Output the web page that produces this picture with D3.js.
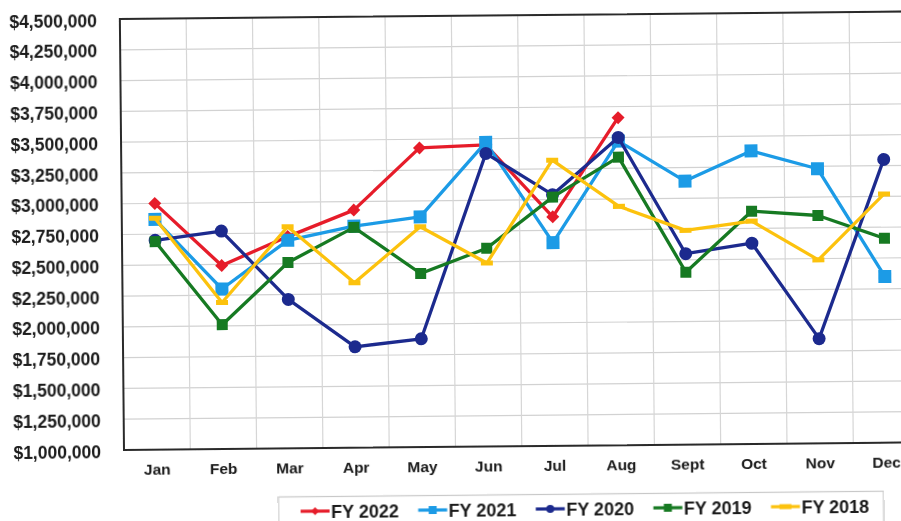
<!DOCTYPE html>
<html>
<head>
<meta charset="utf-8">
<script src="https://cdn.jsdelivr.net/npm/d3@7"></script>
<style>
  html, body { margin: 0; padding: 0; background: #fff; }
  svg { display: block; }
</style>
</head>
<body>
<svg id="chart" width="901" height="521"></svg>
<script>
// Monthly revenue by fiscal year
const months = ["Jan", "Feb", "Mar", "Apr", "May", "Jun", "Jul", "Aug", "Sept", "Oct", "Nov", "Dec"];
const yTicks = [1000000, 1250000, 1500000, 1750000, 2000000, 2250000, 2500000, 2750000,
                3000000, 3250000, 3500000, 3750000, 4000000, 4250000, 4500000];

const fy2022 = [3000000, 2490000, 2720000, 2930000, 3430000, 3450000, 2860000, 3660000];
const fy2021 = [2870000, 2300000, 2690000, 2800000, 2870000, 3470000, 2650000, 3470000, 3140000, 3380000, 3230000, 2350000];
const fy2020 = [2700000, 2770000, 2210000, 1820000, 1880000, 3380000, 3040000, 3500000, 2550000, 2630000, 1850000, 3300000];
const fy2019 = [2690000, 2010000, 2510000, 2790000, 2410000, 2610000, 3020000, 3340000, 2400000, 2890000, 2850000, 2660000];
const fy2018 = [2880000, 2190000, 2800000, 2340000, 2790000, 2490000, 3320000, 2940000, 2740000, 2810000, 2490000, 3020000];

const seriesNames = ["FY 2022", "FY 2021", "FY 2020", "FY 2019", "FY 2018"];
const seriesData = [fy2022, fy2021, fy2020, fy2019, fy2018];

const styles = {
  "FY 2022": { color: "#e61f2b", marker: "diamond", size: 13 },
  "FY 2021": { color: "#1b9be6", marker: "square", size: 13 },
  "FY 2020": { color: "#1d2b8e", marker: "circle", size: 13 },
  "FY 2019": { color: "#197a24", marker: "square", size: 11 },
  "FY 2018": { color: "#fcc210", marker: "dash", size: 12 }
};
// stacking order, bottom to top
const drawOrder = ["FY 2022", "FY 2021", "FY 2020", "FY 2019", "FY 2018"];

const plot = { left: 124, top: 19, bottom: 450 };
const band = 66.3;
const svg = d3.select("#chart");
const fontFam = "'Liberation Sans', Arial, sans-serif";

const defs = svg.append("defs");
defs.append("filter").attr("id", "soft")
  .append("feGaussianBlur").attr("stdDeviation", 0.45);

// whole chart sits slightly tilted
const root = svg.append("g")
  .attr("filter", "url(#soft)")
  .append("g")
  .attr("transform", `rotate(-0.55, ${plot.left}, ${plot.bottom})`);

const x = d3.scaleBand().domain(months)
  .range([plot.left, plot.left + band * months.length]).padding(0);
const y = d3.scaleLinear().domain([1000000, 4500000]).range([plot.bottom, plot.top]);
const plotRight = plot.left + band * months.length;

// grid
const grid = root.append("g");
grid.selectAll("line.h").data(yTicks.slice(1, -1)).join("line")
  .attr("x1", plot.left).attr("x2", plotRight)
  .attr("y1", d => y(d)).attr("y2", d => y(d))
  .attr("stroke", "#d2d2d2").attr("stroke-width", 1.2);
grid.selectAll("line.v").data(months.slice(1)).join("line")
  .attr("x1", d => x(d)).attr("x2", d => x(d))
  .attr("y1", plot.top).attr("y2", plot.bottom)
  .attr("stroke", "#d6d6d6").attr("stroke-width", 1.2);

// frame
root.append("rect")
  .attr("x", plot.left).attr("y", plot.top)
  .attr("width", plotRight - plot.left).attr("height", plot.bottom - plot.top)
  .attr("fill", "none").attr("stroke", "#2a2a2a").attr("stroke-width", 2);

// y axis
const yAxis = d3.axisLeft(y).tickValues(yTicks).tickSize(0).tickPadding(0)
  .tickFormat(d => "$" + d3.format(",")(d));
root.append("g")
  .attr("transform", `translate(101, 1.5)`)
  .call(yAxis)
  .call(g => g.select(".domain").remove())
  .selectAll("text")
  .attr("font-family", fontFam).attr("font-weight", "bold")
  .attr("font-size", 17.5).attr("fill", "#1a1a1a");

// x axis
const xAxis = d3.axisBottom(x).tickSize(0).tickPadding(0);
root.append("g")
  .attr("transform", `translate(0, ${plot.bottom + 14})`)
  .call(xAxis)
  .call(g => g.select(".domain").remove())
  .selectAll("text")
  .attr("font-family", fontFam).attr("font-weight", "bold")
  .attr("font-size", 15.5).attr("fill", "#1a1a1a");

function drawMarker(sel, style, s) {
  const c = style.color;
  if (style.marker === "circle") {
    sel.append("circle").attr("r", s / 2).attr("fill", c);
  } else if (style.marker === "square") {
    sel.append("rect").attr("x", -s / 2).attr("y", -s / 2)
      .attr("width", s).attr("height", s).attr("fill", c);
  } else if (style.marker === "diamond") {
    sel.append("path")
      .attr("d", `M0,${-s / 2}L${s / 2},0L0,${s / 2}L${-s / 2},0Z`).attr("fill", c);
  } else if (style.marker === "dash") {
    sel.append("rect").attr("x", -s / 2).attr("y", -2.5)
      .attr("width", s).attr("height", 5).attr("fill", c);
  }
}

// series
const line = d3.line()
  .x((d, i) => x(months[i]) + x.bandwidth() / 2)
  .y(d => y(d));

const seriesG = root.append("g");
drawOrder.forEach(name => {
  const vals = seriesData[seriesNames.indexOf(name)];
  const st = styles[name];
  const g = seriesG.append("g");
  g.append("path").datum(vals)
    .attr("d", line)
    .attr("fill", "none").attr("stroke", st.color)
    .attr("stroke-width", 3.3).attr("stroke-linejoin", "round");
  g.selectAll("g.m").data(vals).join("g")
    .attr("transform", (d, i) => `translate(${x(months[i]) + x.bandwidth() / 2},${y(d)})`)
    .each(function () { drawMarker(d3.select(this), st, st.size); });
});

// legend
const legend = root.append("g");
legend.append("rect")
  .attr("x", 278).attr("y", 498.5).attr("width", 605).attr("height", 40)
  .attr("fill", "#fff").attr("stroke", "#c8c8c8").attr("stroke-width", 1.2);
seriesNames.forEach((name, i) => {
  const st = styles[name];
  const x0 = 300 + i * 117.6;
  const cy = 513;
  const it = legend.append("g");
  it.append("line").attr("x1", x0).attr("x2", x0 + 29)
    .attr("y1", cy).attr("y2", cy)
    .attr("stroke", st.color).attr("stroke-width", 3.2);
  const m = it.append("g").attr("transform", `translate(${x0 + 14.5},${cy})`);
  drawMarker(m, st, st.marker === "dash" ? 12 : 8);
  it.append("text").attr("x", x0 + 30.5).attr("y", cy + 6.8)
    .attr("font-family", fontFam).attr("font-weight", "bold")
    .attr("font-size", 18).attr("fill", "#1a1a1a")
    .text(name);
});
</script>
</body>
</html>
